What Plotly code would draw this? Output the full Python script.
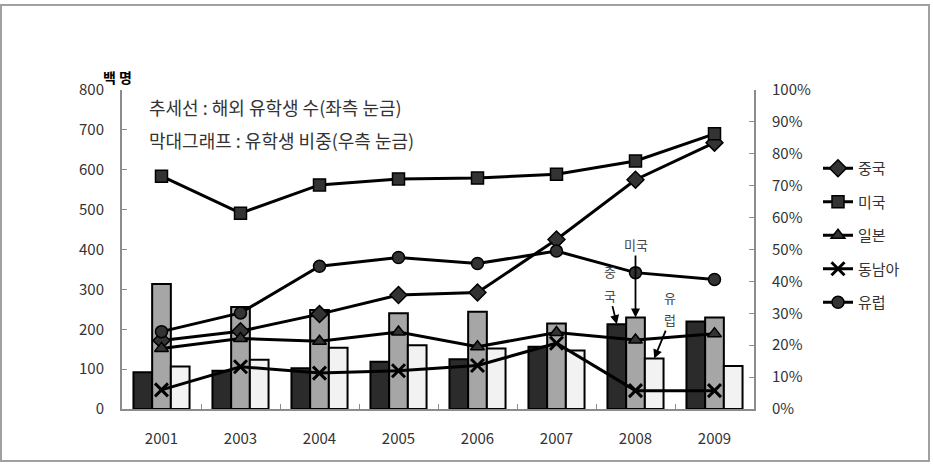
import plotly.graph_objects as go

years = ["2001", "2003", "2004", "2005", "2006", "2007", "2008", "2009"]

# Lines: number of students abroad (hundreds) - left axis
china = [172, 195, 238, 286, 292, 425, 575, 668]
usa = [584, 491, 562, 577, 579, 589, 622, 690]
japan = [152, 177, 170, 193, 156, 192, 173, 189]
sea = [48, 106, 90, 96, 109, 165, 46, 46]
europe = [194, 241, 358, 380, 365, 396, 342, 325]

# Bars: share of students (%) - right axis
bar_china = [11.5, 12.0, 12.8, 14.8, 15.6, 19.5, 26.6, 27.4]
bar_usa = [39.2, 32.0, 31.0, 30.0, 30.5, 26.8, 28.7, 28.7]
bar_europe = [13.3, 15.4, 19.2, 20.0, 19.0, 18.3, 15.8, 13.5]

line_names = ["중국", "미국", "일본", "동남아", "유럽"]
line_values = [china, usa, japan, sea, europe]
line_symbols = ["diamond", "square", "triangle-up", "x-thin", "circle"]

FONT = "Noto Sans CJK KR"
TXT = "#333333"
AX = "#8c8c8c"

fig = go.Figure()

for vals, color in [(bar_china, "#2b2b2b"), (bar_usa, "#a6a6a6"), (bar_europe, "#f2f2f2")]:
    fig.add_trace(go.Bar(
        x=years, y=vals, yaxis="y",
        marker=dict(color=color, line=dict(color="black", width=2)),
        showlegend=False, hoverinfo="skip",
    ))

for name, vals, sym in zip(line_names, line_values, line_symbols):
    if sym == "x-thin":
        marker = dict(symbol=sym, size=13, color="black", line=dict(color="black", width=3))
    else:
        marker = dict(symbol=sym, size=13 if sym == "diamond" else 12, color="#333333",
                      line=dict(color="black", width=1.5))
    fig.add_trace(go.Scatter(
        x=years, y=vals, yaxis="y2", name=name, legendgroup=name,
        mode="lines+markers", line=dict(color="black", width=3), marker=marker,
    ))

bw = (1 - 0.29) / 3
ann_font = dict(family=FONT, size=13, color="#444444")
arrow = dict(showarrow=True, arrowhead=2, arrowsize=1, arrowwidth=1.8, arrowcolor="black")
annotations = [
    dict(x=6, y=bar_usa[6], xref="x", yref="y", text="미국", ax=0, ay=-73, font=ann_font, **arrow),
    # vertical label 중/국
    dict(x=6 - bw, y=bar_china[6], xref="x", yref="y", text="중", showarrow=False,
         xshift=-7, yshift=53, font=ann_font),
    dict(x=6 - bw, y=bar_china[6], xref="x", yref="y", text="국", ax=-7, ay=-29,
         font=ann_font, **arrow),
    # vertical label 유/럽
    dict(x=6 + bw, y=bar_europe[6], xref="x", yref="y", text="유", showarrow=False,
         xshift=16, yshift=61, font=ann_font),
    dict(x=6 + bw, y=bar_europe[6], xref="x", yref="y", text="럽", ax=16, ay=-39,
         font=ann_font, **arrow),
    dict(x=(117 - 122) / 632, y=(409 - 77) / 319, xref="paper", yref="paper",
         text="<b>백 명</b>", showarrow=False, xanchor="center", yanchor="middle",
         font=dict(family=FONT, size=14, color="black")),
    dict(x=(147 - 122) / 632, y=(409 - 107) / 319, xref="paper", yref="paper",
         text="추세선 : 해외 유학생 수(좌측 눈금)", showarrow=False, xanchor="left", yanchor="middle",
         font=dict(family=FONT, size=18, color=TXT)),
    dict(x=(147 - 122) / 632, y=(409 - 140) / 319, xref="paper", yref="paper",
         text="막대그래프 : 유학생 비중(우측 눈금)", showarrow=False, xanchor="left", yanchor="middle",
         font=dict(family=FONT, size=18, color=TXT)),
]

fig.update_layout(
    width=933, height=465,
    margin=dict(l=122, r=179, t=90, b=56),
    paper_bgcolor="white", plot_bgcolor="white",
    font=dict(family=FONT, size=14, color=TXT),
    barmode="group", bargap=0.29, bargroupgap=0,
    xaxis=dict(type="category", range=[-0.5, 7.5], tickson="boundaries", ticks="inside",
               ticklen=5, tickcolor=AX, showline=True, linecolor=AX, linewidth=2,
               showgrid=False, zeroline=False, ticklabelstandoff=15,
               tickfont=dict(family=FONT, size=15, color=TXT)),
    yaxis=dict(side="right", range=[0, 100], dtick=10, ticksuffix="%", ticks="inside",
               ticklen=5, tickcolor=AX, showline=True, linecolor=AX, linewidth=2,
               showgrid=False, zeroline=False, ticklabelstandoff=13,
               tickfont=dict(family=FONT, size=15, color=TXT)),
    yaxis2=dict(overlaying="y", side="left", range=[0, 800], dtick=100, ticks="inside",
                ticklen=5, tickcolor=AX, showline=True, linecolor=AX, linewidth=2,
                showgrid=False, zeroline=False, ticklabelstandoff=13,
                tickfont=dict(family=FONT, size=15, color=TXT)),
    legend=dict(x=(818 - 122) / 632, y=(409 - 152) / 319, xanchor="left", yanchor="top",
                bgcolor="rgba(0,0,0,0)", font=dict(family=FONT, size=15, color=TXT),
                tracegroupgap=11),
    annotations=annotations,
    shapes=[dict(type="rect", xref="paper", yref="paper",
                 x0=(1 - 122) / 632, x1=(929 - 122) / 632,
                 y0=(409 - 461) / 319, y1=(409 - 5) / 319,
                 line=dict(color="#a0a0a0", width=2))],
)

fig.write_html("out.html")
